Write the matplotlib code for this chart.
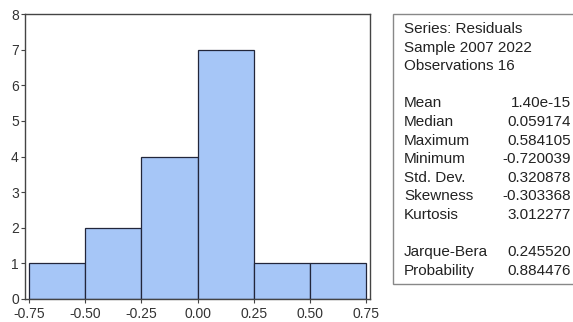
import numpy as np
import matplotlib.pyplot as plt

plt.rcParams['font.family'] = ['Liberation Sans', 'DejaVu Sans']

# histogram of the residuals (bin edges and counts)
bin_edges = [-0.75, -0.50, -0.25, 0.00, 0.25, 0.50, 0.75]
counts = [1, 2, 4, 7, 1, 1]
xtick_labels = ['-0.75', '-0.50', '-0.25', '0.00', '0.25', '0.50', '0.75']

# descriptive statistics
header = ['Series: Residuals', 'Sample 2007 2022', 'Observations 16']
stat_names = ['Mean', 'Median', 'Maximum', 'Minimum', 'Std. Dev.', 'Skewness', 'Kurtosis']
stat_values = ['1.40e-15', '0.059174', '0.584105', '-0.720039', '0.320878', '-0.303368', '3.012277']
test_names = ['Jarque-Bera', 'Probability']
test_values = ['0.245520', '0.884476']

W, H = 573, 322
fig = plt.figure(figsize=(W / 100, H / 100), dpi=100)
ax = fig.add_axes([25 / W, 1 - 299 / H, (370 - 25) / W, (299 - 14) / H])

left = np.array(bin_edges[:-1])
width = np.diff(bin_edges)
ax.bar(left, counts, width=width, align='edge', color='#a6c6f7',
       edgecolor='#22263a', linewidth=0.9)

ax.set_xlim(-0.768, 0.766)
ax.set_ylim(0, 8)
ax.set_xticks(bin_edges)
ax.set_xticklabels(xtick_labels)
ax.set_yticks(range(0, 9))
for s in ax.spines.values():
    s.set_color('#444444')
    s.set_linewidth(1.0)
ax.tick_params(axis='both', direction='out', length=3, width=0.8, color='#444444',
               labelsize=10, labelcolor='#333333', pad=1.5)
ax.tick_params(axis='x', pad=3)

# statistics box on the right
box = plt.Rectangle((393 / W, 1 - 284 / H), 1.0, (284 - 14) / H, transform=fig.transFigure,
                    facecolor='white', edgecolor='#888888', linewidth=1.0, clip_on=False)
fig.patches.append(box)

fs = 11
xl = 404 / W
xr = 571 / W
step = 18.6
rows = header + [''] + stat_names + [''] + test_names
vals = ['', '', '', ''] + stat_values + [''] + test_values
for i, (n, v) in enumerate(zip(rows, vals)):
    y = 1 - (29 + step * i) / H
    if n:
        fig.text(xl, y, n, fontsize=fs, color='#222222', va='center')
    if v:
        fig.text(xr, y, v, fontsize=fs, color='#222222', va='center', ha='right')

fig.savefig('out.png', dpi=100)
